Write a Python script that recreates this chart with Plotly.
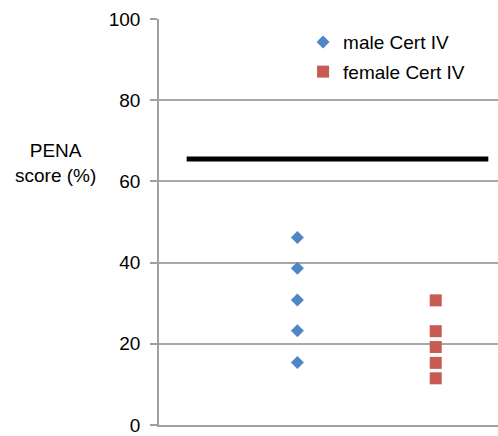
import plotly.graph_objects as go

male_x = [1, 1, 1, 1, 1]
male_y = [46.2, 38.6, 30.8, 23.2, 15.4]
female_x = [2, 2, 2, 2, 2]
female_y = [30.7, 23.1, 19.2, 15.3, 11.5]
ref_x = [0.2, 2.38]
ref_y = [65.5, 65.5]
y_ticks = [0, 20, 40, 60, 80, 100]

fig = go.Figure()
fig.add_trace(go.Scatter(x=ref_x, y=ref_y, mode="lines",
                         line=dict(color="black", width=5), showlegend=False,
                         hoverinfo="skip"))
fig.add_trace(go.Scatter(x=male_x, y=male_y, mode="markers", name="male Cert IV",
                         legendgroup="m",
                         marker=dict(symbol="diamond", size=10, color="#4F86C6")))
fig.add_trace(go.Scatter(x=female_x, y=female_y, mode="markers", name="female Cert IV",
                         legendgroup="f",
                         marker=dict(symbol="square", size=12, color="#C85A54")))

fig.update_layout(
    width=498, height=436,
    margin=dict(l=159, r=0, t=19, b=8),
    paper_bgcolor="white", plot_bgcolor="white",
    font=dict(family="Liberation Sans, Arial, sans-serif", size=19, color="black"),
    legend=dict(x=0.425, y=0.99, xanchor="left", yanchor="top",
                bgcolor="rgba(0,0,0,0)", font=dict(size=19),
                itemwidth=30, tracegroupgap=2),
    annotations=[dict(text="PENA<br>score (%)", xref="paper", yref="paper",
                      x=-0.305, y=0.645, xanchor="center", yanchor="middle",
                      showarrow=False, font=dict(size=19))],
)
fig.update_xaxes(range=[0, 2.45], showgrid=False, zeroline=False,
                 showticklabels=False, showline=True, linecolor="#A0A0A0",
                 linewidth=1.5, ticks="")
fig.update_yaxes(range=[0, 100], tickvals=y_ticks, showgrid=True,
                 gridcolor="#A8A8A8", gridwidth=1.5, zeroline=False,
                 showline=True, linecolor="#A0A0A0", linewidth=1.5,
                 ticks="outside", ticklen=7, tickcolor="#A0A0A0", tickwidth=1.5,
                 ticklabelstandoff=6, ticklabeloverflow="allow",
                 tickfont=dict(size=19))

fig.write_html("out.html")
